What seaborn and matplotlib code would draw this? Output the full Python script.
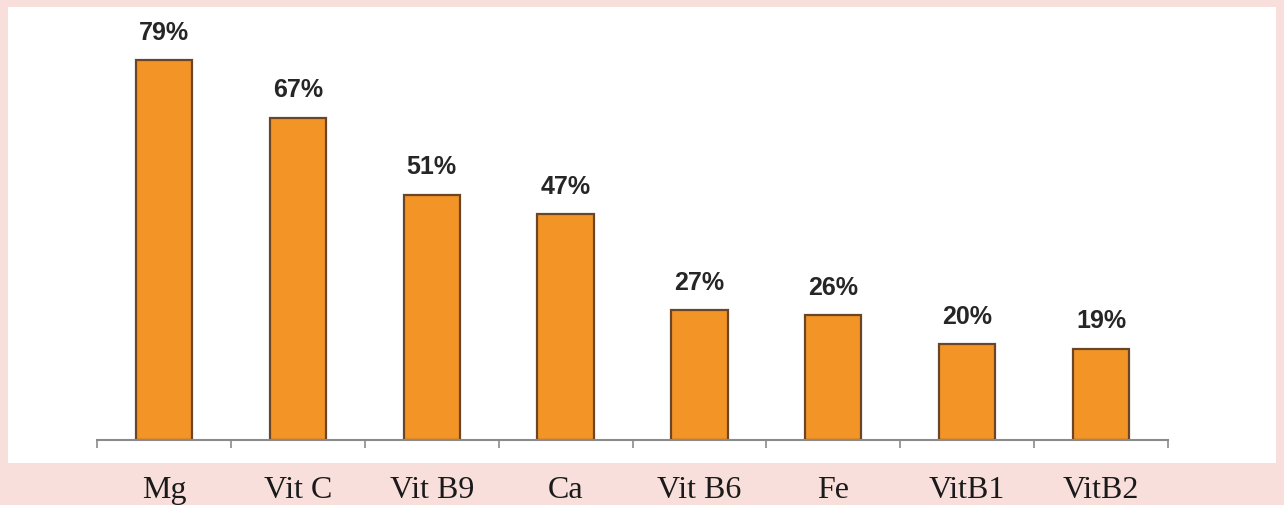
import matplotlib
matplotlib.use("Agg")
import matplotlib.pyplot as plt
import seaborn as sns
import pandas as pd
from matplotlib.patches import Rectangle
from matplotlib.ticker import FixedLocator

categories = ["Mg", "Vit C", "Vit B9", "Ca", "Vit B6", "Fe", "VitB1", "VitB2"]
values = [79, 67, 51, 47, 27, 26, 20, 19]
labels = ["79%", "67%", "51%", "47%", "27%", "26%", "20%", "19%"]

df = pd.DataFrame({"cat": categories, "val": values})

sns.set_theme(style="white")
plt.rcParams["font.family"] = ["DejaVu Sans"]

fig = plt.figure(figsize=(12.84, 5.05), dpi=100, facecolor="#f8dfdb")
W, H = 1284, 505
panel = Rectangle((8 / W, (H - 463) / H), (1276 - 8) / W, (463 - 7) / H,
                  transform=fig.transFigure, facecolor="white",
                  edgecolor="none", zorder=0)
fig.patches.append(panel)

ax = fig.add_axes([97 / W, (H - 440) / H, (1168 - 97) / W, (440 - 7) / H])
ax.set_zorder(2)
ax.set_facecolor("none")
sns.barplot(data=df, x="cat", y="val", ax=ax, color="#f29426", saturation=1,
            width=0.42, edgecolor="#6b4626", linewidth=1.6)

ax.set_xlim(-0.5, len(categories) - 0.5)
ax.set_ylim(0, 90)
for s in ["top", "right", "left"]:
    ax.spines[s].set_visible(False)
ax.spines["bottom"].set_color("#8a8a8a")
ax.spines["bottom"].set_linewidth(1.5)
ax.set_yticks([])
ax.set_xlabel("")
ax.set_ylabel("")

ax.xaxis.set_minor_locator(FixedLocator([i - 0.5 for i in range(len(categories) + 1)]))
ax.tick_params(axis="x", which="minor", length=6, width=1.2, color="#8a8a8a", direction="out", bottom=True)
ax.tick_params(axis="x", which="major", length=0, pad=26)
for t in ax.get_xticklabels():
    t.set_fontfamily(["Liberation Serif", "DejaVu Serif"])
    t.set_fontsize(23)
    t.set_color("#1a1a1a")

for i, (v, lab) in enumerate(zip(values, labels)):
    ax.annotate(lab, (i, v), xytext=(0, 11), textcoords="offset points",
                ha="center", va="bottom", fontsize=18, fontweight="bold",
                color="#262626", family=["Liberation Sans", "DejaVu Sans"])

fig.savefig("out.png", dpi=100, facecolor=fig.get_facecolor())
